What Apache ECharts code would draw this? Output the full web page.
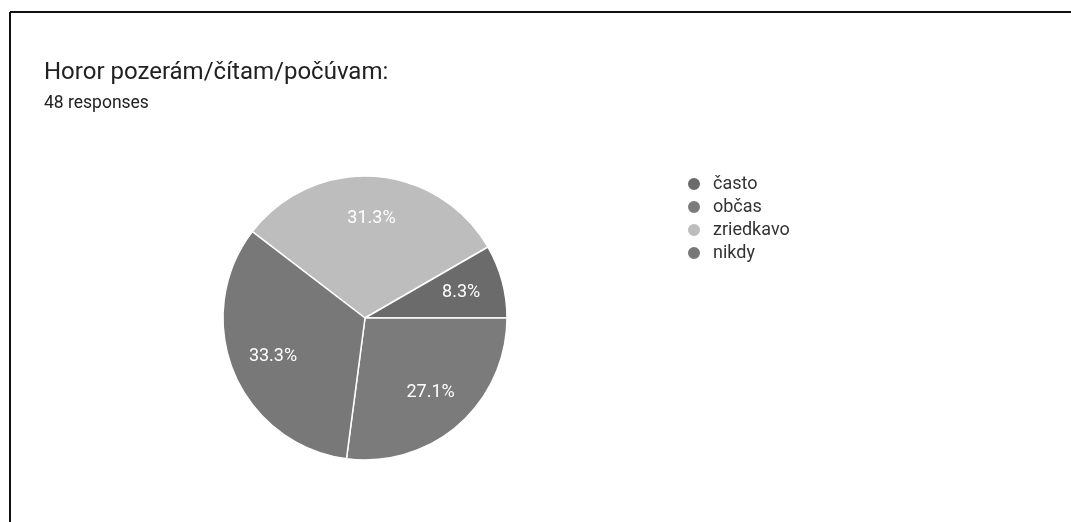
<!DOCTYPE html>
<html>
<head>
<meta charset="utf-8">
<script src="https://cdn.jsdelivr.net/npm/echarts@6/dist/echarts.min.js"></script>
<style>
html,body{margin:0;padding:0;background:#fff;}
#chart{width:1071px;height:522px;}
</style>
</head>
<body>
<div id="chart"></div>
<script>
var titleText = 'Horor pozerám/čítam/počúvam:';
var subText = '48 responses';
var categories = ['často', 'občas', 'zriedkavo', 'nikdy'];
var counts = [4, 13, 15, 16];
var colors = ['#6b6b6b', '#7b7b7b', '#bdbdbd', '#787878'];
// order of the slices clockwise around the pie, as drawn in the picture
var sliceOrder = ['zriedkavo', 'často', 'občas', 'nikdy'];

function sliceData(withColor) {
  return sliceOrder.map(function (name) {
    var i = categories.indexOf(name);
    var d = { name: name, value: counts[i] };
    if (withColor) d.itemStyle = { color: colors[i] };
    return d;
  });
}

var chart = echarts.init(document.getElementById('chart'));
var R = 142;
var C = [365, 318];
var START = 142.5;
chart.setOption({
  animation: false,
  backgroundColor: '#ffffff',
  title: {
    text: titleText,
    subtext: subText,
    left: 39,
    top: 56,
    itemGap: 10,
    textStyle: { fontFamily: 'Roboto', fontSize: 24, fontWeight: 'normal', color: '#212121' },
    subtextStyle: { fontFamily: 'Roboto', fontSize: 17.5, color: '#212121' }
  },
  legend: {
    orient: 'vertical',
    left: 681,
    top: 170,
    itemWidth: 14,
    itemHeight: 14,
    itemGap: 5,
    icon: 'circle',
    data: categories,
    textStyle: { fontFamily: 'Roboto', fontSize: 18, lineHeight: 18, color: '#333333', padding: [0, 0, 0, 7] }
  },
  graphic: [
    { type: 'line', shape: { x1: 10, y1: 12, x2: 1071, y2: 12 }, style: { stroke: '#111', lineWidth: 2 } },
    { type: 'line', shape: { x1: 10, y1: 12, x2: 10, y2: 522 }, style: { stroke: '#111', lineWidth: 2 } }
  ],
  series: [
    {
      type: 'pie',
      center: C,
      radius: [0, R],
      startAngle: START,
      clockwise: true,
      percentPrecision: 1,
      data: sliceData(true),
      itemStyle: { borderColor: '#ffffff', borderWidth: 1.5 },
      label: { show: false },
      labelLine: { show: false },
      emphasis: { disabled: true }
    },
    {
      type: 'pie',
      center: C,
      radius: [R * 0.36, R],
      startAngle: START,
      clockwise: true,
      percentPrecision: 1,
      silent: true,
      data: sliceData(false),
      itemStyle: { color: 'rgba(0,0,0,0)', borderWidth: 0 },
      label: {
        show: true,
        position: 'inside',
        formatter: function (p) { return p.percent.toFixed(1) + '%'; },
        fontFamily: 'Roboto',
        fontSize: 18,
        color: '#ffffff'
      },
      labelLine: { show: false },
      emphasis: { disabled: true }
    }
  ]
});
</script>
</body>
</html>
